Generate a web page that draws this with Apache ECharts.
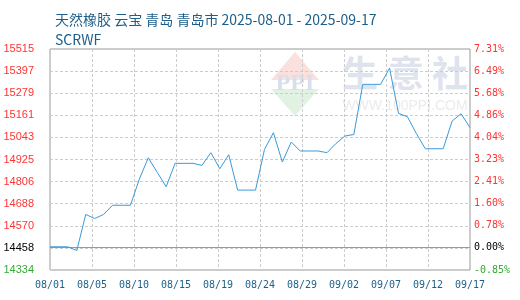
<!DOCTYPE html>
<html><head><meta charset="utf-8">
<script src="https://cdn.jsdelivr.net/npm/echarts@6/dist/echarts.min.js"></script>
<style>html,body{margin:0;padding:0;background:#fff}#c{width:520px;height:300px}</style>
</head><body><div id="c"></div>
<script>
const dates = ["08/01","08/02","08/03","08/04","08/05","08/06","08/07","08/08","08/09","08/10",
  "08/11","08/12","08/13","08/14","08/15","08/16","08/17","08/18","08/19","08/20",
  "08/21","08/22","08/23","08/24","08/25","08/26","08/27","08/28","08/29","08/30","08/31",
  "09/01","09/02","09/03","09/04","09/05","09/06","09/07","09/08","09/09","09/10",
  "09/11","09/12","09/13","09/14","09/15","09/16","09/17"];
const prices = [14458,14458,14458,14438,14631,14609,14631,14680,14680,14680,
  14820,14934,14856,14779,14904,14904,14904,14893,14961,14875,
  14950,14761,14761,14761,14978,15068,14911,15018,14970,14970,14970,
  14961,15010,15050,15058,15326,15326,15326,15413,15171,15153,
  15063,14982,14982,14982,15130,15169,15095];
const priceTicks = ["14334","14458","14570","14688","14806","14925","15043","15161","15279","15397","15515"];
const pctTicks = ["-0.85%","0.00%","0.78%","1.60%","2.41%","3.23%","4.04%","4.86%","5.68%","6.49%","7.31%"];
const basePrice = 14458;
const axisMin = 14334;
const axisStep = 118.1;
const titleText = "天然橡胶 云宝 青岛 青岛市 2025-08-01 - 2025-09-17";
const subText = "SCRWF";

const toAxis = p => (p - axisMin) / axisStep;
const lineData = prices.map((p, i) => [i, toAxis(p)]);
const tickColor = i => i === 0 ? '#33aa33' : (i === 1 ? '#000000' : '#ff3333');

const chart = echarts.init(document.getElementById('c'), null, {renderer: 'canvas'});
chart.setOption({
  animation: false,
  backgroundColor: '#ffffff',
  title: [
    {text: titleText, left: 50, top: 8, textStyle: {fontSize: 14, fontWeight: 'normal', color: '#1d5f8a', fontFamily: 'Noto Sans CJK SC'}},
    {text: subText, left: 50, top: 28, textStyle: {fontSize: 14, fontWeight: 'normal', color: '#1d5f8a', fontFamily: 'Noto Sans CJK SC'}}
  ],
  graphic: [
    {type: 'polygon', z: -10, silent: true, shape: {points: [[295,52],[271,80],[319,80]]}, style: {fill: '#fbe1dd'}},
    {type: 'polygon', z: -10, silent: true, shape: {points: [[271,89],[319,89],[295,116]]}, style: {fill: '#e1f2e3'}},
    {type: 'text', z: -9, silent: true, style: {text: 'PPI', x: 295, y: 84, align: 'center', verticalAlign: 'middle', font: 'bold 24px "Liberation Serif"', fill: '#d8dfec'}},
    {type: 'text', z: -9, silent: true, style: {text: '生', x: 360, y: 73, align: 'center', verticalAlign: 'middle', font: 'bold 36px "Noto Sans CJK SC"', fill: '#dfe3ee'}},
    {type: 'text', z: -9, silent: true, style: {text: '意', x: 406, y: 73, align: 'center', verticalAlign: 'middle', font: 'bold 36px "Noto Sans CJK SC"', fill: '#dfe3ee'}},
    {type: 'text', z: -9, silent: true, style: {text: '社', x: 450, y: 73, align: 'center', verticalAlign: 'middle', font: 'bold 36px "Noto Sans CJK SC"', fill: '#dfe3ee'}},
    {type: 'text', z: -9, silent: true, style: {text: 'WWW.100PPI.COM', x: 405, y: 106, align: 'center', verticalAlign: 'middle', font: '14px "Liberation Sans"', fill: '#ebebeb'}}
  ],
  grid: {left: 50, right: 50, top: 49, bottom: 30, show: true, borderColor: '#999999', borderWidth: 1, backgroundColor: 'transparent'},
  xAxis: {
    type: 'value', min: 0, max: dates.length - 1, interval: (dates.length - 1) / 10,
    axisLine: {show: false}, axisTick: {show: false},
    splitLine: {show: true, lineStyle: {color: '#cccccc', type: [3, 2], width: 1}},
    axisLabel: {
      margin: 10, color: '#1d5f8a', fontSize: 10, fontFamily: 'DejaVu Sans Mono',
      formatter: v => dates[Math.floor(v + 1e-6)] || ''
    }
  },
  yAxis: [
    {
      type: 'value', min: 0, max: priceTicks.length - 1, interval: 1, position: 'left',
      axisLine: {show: false}, axisTick: {show: false},
      splitLine: {show: true, lineStyle: {color: '#cccccc', type: [3, 2], width: 1}},
      axisLabel: {
        margin: 16, fontSize: 11, fontFamily: 'Liberation Sans',
        formatter: v => { const i = Math.round(v); return '{c' + Math.min(i, 2) + '|' + priceTicks[i] + '}'; },
        rich: {c0: {color: tickColor(0)}, c1: {color: tickColor(1)}, c2: {color: tickColor(2)}}
      }
    },
    {
      type: 'value', min: 0, max: pctTicks.length - 1, interval: 1, position: 'right',
      axisLine: {show: false}, axisTick: {show: false}, splitLine: {show: false},
      axisLabel: {
        margin: 4, fontSize: 10, fontFamily: 'DejaVu Sans Mono',
        formatter: v => { const i = Math.round(v); return '{c' + Math.min(i, 2) + '|' + pctTicks[i] + '}'; },
        rich: {c0: {color: tickColor(0)}, c1: {color: tickColor(1)}, c2: {color: tickColor(2)}}
      }
    }
  ],
  series: [{
    type: 'line', data: lineData, xAxisIndex: 0, yAxisIndex: 0,
    showSymbol: false, symbol: 'none', smooth: false,
    lineStyle: {color: '#3a9ad9', width: 1},
    z: 5,
    markLine: {
      silent: true, symbol: 'none', label: {show: false},
      lineStyle: {color: '#999999', type: 'solid', width: 1},
      data: [{yAxis: toAxis(basePrice)}],
      z: 3
    }
  }]
});
</script>
</body></html>
